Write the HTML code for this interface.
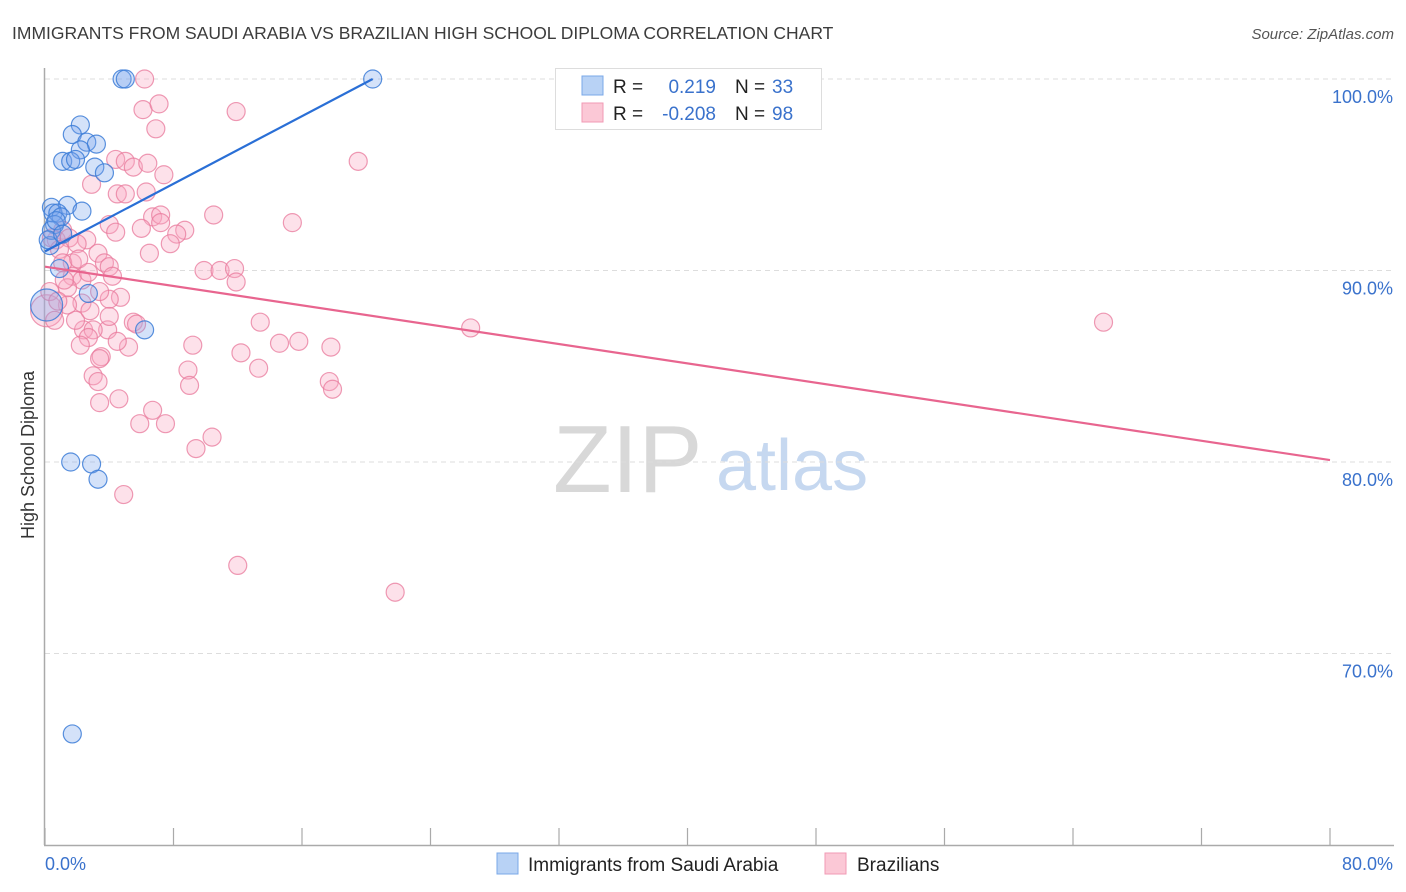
<!DOCTYPE html>
<html><head><meta charset="utf-8">
<style>
body{margin:0;background:#fff;font-family:"Liberation Sans",sans-serif;}
#wrap{position:relative;width:1406px;height:892px;overflow:hidden;}
svg text{font-family:"Liberation Sans",sans-serif;}
</style></head>
<body>
<div id="wrap">
<svg id="chart" width="1406" height="892">
  <text x="12" y="39" font-size="17.5" fill="#3c3c3c">IMMIGRANTS FROM SAUDI ARABIA VS BRAZILIAN HIGH SCHOOL DIPLOMA CORRELATION CHART</text>
  <text x="1394" y="39" font-size="15" fill="#555" font-style="italic" text-anchor="end">Source: ZipAtlas.com</text>
  <g>
    <text x="553" y="492" font-size="96" fill="#d8d8d8" font-family="Liberation Serif, serif">ZIP</text>
    <text x="716" y="490" font-size="72" fill="#c6d8f0">atlas</text>
  </g>
  <g id="grid"></g>
  <g id="axes"></g>
  <g id="points"></g>
  <g id="lines"></g>
  <text transform="translate(34,455) rotate(-90)" font-size="18" fill="#333" text-anchor="middle">High School Diploma</text>
  <g>
    <rect x="555.5" y="68.5" width="266" height="61" fill="#fff" stroke="#ddd"/>
    <rect x="582" y="76" width="21" height="19" fill="#b8d2f5" stroke="#7aa8e8"/>
    <rect x="582" y="103" width="21" height="19" fill="#fbc8d6" stroke="#f09ab4"/>
    <text x="613" y="93" font-size="19" fill="#222">R =</text>
    <text x="716" y="93" font-size="19" fill="#3a72cc" text-anchor="end">0.219</text>
    <text x="735" y="93" font-size="19" fill="#222">N =</text>
    <text x="772" y="93" font-size="19" fill="#3a72cc">33</text>
    <text x="613" y="120" font-size="19" fill="#222">R =</text>
    <text x="716" y="120" font-size="19" fill="#3a72cc" text-anchor="end">-0.208</text>
    <text x="735" y="120" font-size="19" fill="#222">N =</text>
    <text x="772" y="120" font-size="19" fill="#3a72cc">98</text>
  </g>
  <g>
    <rect x="497" y="853" width="21" height="21" fill="#b8d2f5" stroke="#7aa8e8"/>
    <text x="528" y="871" font-size="19" fill="#222">Immigrants from Saudi Arabia</text>
    <rect x="825" y="853" width="21" height="21" fill="#fbc8d6" stroke="#f09ab4"/>
    <text x="857" y="871" font-size="19" fill="#222">Brazilians</text>
  </g>
</svg>
</div>
<script>
const xTicks = [0,8,16,24,32,40,48,56,64,72,80];
const yTicks = [100,90,80,70];
const yTickLabels = ["100.0%","90.0%","80.0%","70.0%"];
const xEdgeLabels = ["0.0%","80.0%"];
const blueX = [4.8,5.0,20.4,2.2,1.7,2.6,3.2,2.2,1.1,1.6,1.9,3.1,3.7,0.4,1.4,0.5,0.8,1.0,2.3,0.6,0.3,0.9,2.7,6.2,1.6,2.9,3.3,1.7,0.1,0.4,0.2,0.7,1.1];
const blueY = [100,100,100,97.6,97.1,96.7,96.6,96.3,95.7,95.7,95.8,95.4,95.1,93.3,93.4,93.0,93.0,92.8,93.1,92.4,91.3,90.1,88.8,86.9,80.0,79.9,79.1,65.8,88.2,92.1,91.6,92.6,91.9];
const blueBig = [28];
const pinkX = [6.2,6.1,7.1,11.9,6.9,19.5,4.4,5.0,5.5,6.4,7.4,2.9,4.5,5.0,6.3,10.5,6.7,7.2,7.2,4.0,15.4,6.0,8.7,8.2,4.4,1.1,0.7,1.5,2.6,2.0,0.4,0.9,3.3,1.7,1.1,2.1,3.7,4.0,9.9,10.9,11.8,11.9,1.7,2.3,2.7,4.2,1.4,4.7,4.0,2.3,1.4,26.5,65.9,13.4,5.5,5.7,3.9,2.4,3.0,2.7,9.2,12.2,14.6,15.8,17.8,5.2,3.5,3.4,13.3,8.9,17.7,17.9,9.0,3.0,3.3,4.6,6.7,5.9,7.5,3.4,10.4,9.4,4.9,12.0,21.8,0.1,0.6,0.3,0.8,1.2,1.9,2.2,2.8,3.4,4.0,4.5,6.5,7.8];
const pinkY = [100,98.4,98.7,98.3,97.4,95.7,95.8,95.7,95.4,95.6,95.0,94.5,94.0,94.0,94.1,92.9,92.8,92.9,92.5,92.4,92.5,92.2,92.1,91.9,92.0,92.1,91.6,91.7,91.6,91.4,91.7,91.1,90.9,90.4,90.4,90.6,90.4,90.2,90.0,90.0,90.1,89.4,89.7,89.5,89.9,89.7,89.1,88.6,88.5,88.3,88.2,87.0,87.3,87.3,87.3,87.2,86.9,86.9,86.9,86.5,86.1,85.7,86.2,86.3,86.0,86.0,85.5,85.4,84.9,84.8,84.2,83.8,84.0,84.5,84.2,83.3,82.7,82.0,82.0,83.1,81.3,80.7,78.3,74.6,73.2,87.9,87.4,88.9,88.4,89.5,87.4,86.1,87.9,88.9,87.6,86.3,90.9,91.4];
const pinkBig = [85];
const blueTrendX = [0,20.4];
const blueTrendY = [91.0,100];
const pinkTrendX = [0,80];
const pinkTrendY = [90.2,80.1];

const NS = "http://www.w3.org/2000/svg";
function sx(v){return 45 + v*(1330-45)/80;}
function sy(v){return 79 + (100-v)*19.15;}
function mk(tag, attrs, parent){const e=document.createElementNS(NS,tag);for(const k in attrs)e.setAttribute(k,attrs[k]);parent.appendChild(e);return e;}

const grid=document.getElementById('grid'), axes=document.getElementById('axes');
yTicks.forEach((t,i)=>{
  const g=mk('line',{x1:45,x2:1394,y1:sy(t),y2:sy(t),stroke:'#ddd','stroke-dasharray':'5,4'},grid);
  
  
  const l=mk('text',{x:1393,y:sy(t)+24,'font-size':18,fill:'#3a72cc','text-anchor':'end'},axes);
  l.textContent=yTickLabels[i];
  
  
});
const ya=mk('line',{x1:44.5,x2:44.5,y1:68,y2:845,stroke:'#aaa','stroke-width':1.5},axes);


const xa=mk('line',{x1:44,x2:1394,y1:845.5,y2:845.5,stroke:'#aaa','stroke-width':1.5},axes);


xTicks.forEach(t=>{
  const k=mk('line',{x1:sx(t),x2:sx(t),y1:828,y2:845,stroke:'#aaa','stroke-width':1.2},axes);
  
  
});
const xl0=mk('text',{x:45,y:870,'font-size':18,fill:'#3a72cc'},axes);
xl0.textContent=xEdgeLabels[0];


const xl1=mk('text',{x:1393,y:870,'font-size':18,fill:'#3a72cc','text-anchor':'end'},axes);
xl1.textContent=xEdgeLabels[1];



const pts=document.getElementById('points');
pinkX.forEach((x,i)=>{
  const c=mk('circle',{cx:sx(x),cy:sy(pinkY[i]),r:pinkBig.includes(i)?16:9,fill:'rgba(248,170,195,0.35)',stroke:'rgba(232,120,155,0.75)','stroke-width':1.2},pts);
  
  
});
blueX.forEach((x,i)=>{
  const c=mk('circle',{cx:sx(x),cy:sy(blueY[i]),r:blueBig.includes(i)?16:9,fill:'rgba(120,165,235,0.32)',stroke:'rgba(60,125,215,0.85)','stroke-width':1.2},pts);
  
  
});
const ln=document.getElementById('lines');
const bl=mk('line',{x1:sx(blueTrendX[0]),y1:sy(blueTrendY[0]),x2:sx(blueTrendX[1]),y2:sy(blueTrendY[1]),stroke:'#2a6fd6','stroke-width':2.2},ln);


const pl=mk('line',{x1:sx(pinkTrendX[0]),y1:sy(pinkTrendY[0]),x2:sx(pinkTrendX[1]),y2:sy(pinkTrendY[1]),stroke:'#e8658f','stroke-width':2.2},ln);


</script>
</body></html>
